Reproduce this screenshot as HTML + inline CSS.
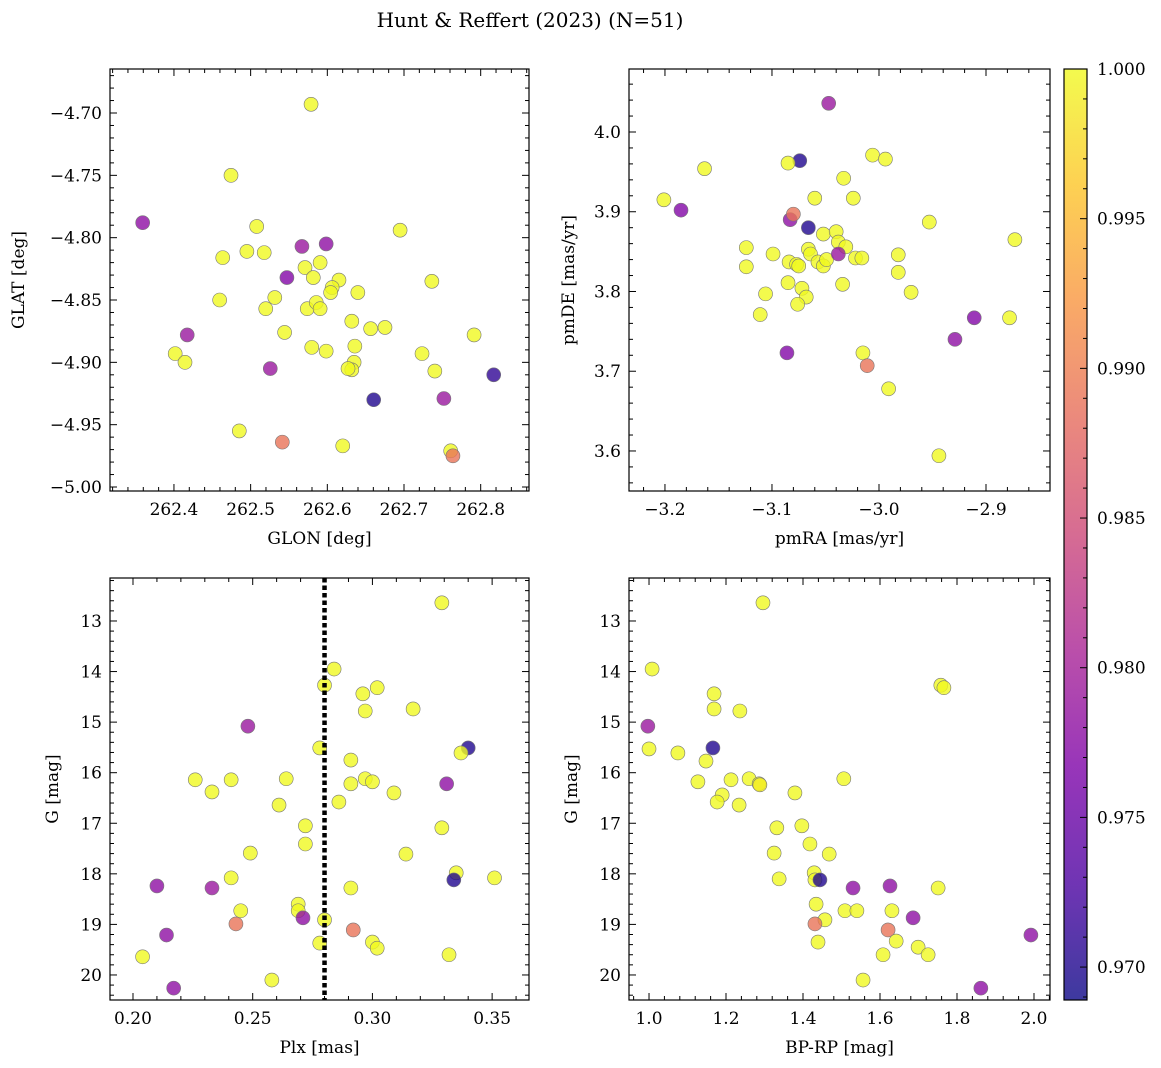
<!DOCTYPE html>
<html><head><meta charset="utf-8">
<style>
html,body{margin:0;padding:0;background:#fff;}
svg{display:block;font-family:"DejaVu Serif","Liberation Serif",serif;}
</style></head>
<body>
<svg id="fig" width="1161" height="1068" viewBox="0 0 1161 1068" xmlns="http://www.w3.org/2000/svg">
<defs>
<linearGradient id="plasma" x1="0" y1="1" x2="0" y2="0">
<stop offset="0" stop-color="#0d0887"/><stop offset="0.125" stop-color="#4c02a1"/>
<stop offset="0.25" stop-color="#7e03a8"/><stop offset="0.375" stop-color="#a92395"/>
<stop offset="0.5" stop-color="#cc4778"/><stop offset="0.625" stop-color="#e66c5c"/>
<stop offset="0.75" stop-color="#f89540"/><stop offset="0.875" stop-color="#fdc527"/>
<stop offset="1" stop-color="#f0f921"/>
</linearGradient>
</defs>
<text x="530" y="27" font-size="20" text-anchor="middle">Hunt &amp; Reffert (2023) (N=51)</text>
</svg>
<script>
// Panel 1: GLON vs GLAT
const tlX=[262.5788,262.3592,262.4744,262.5079,262.4951,262.5177,262.5669,262.5985,262.5473,262.5709,262.5906,262.6152,262.6063,262.5817,262.4636,262.4596,262.5315,262.5197,262.5738,262.5856,262.5906,262.6043,262.6398,262.6949,262.7363,262.4016,262.4144,262.4173,262.5443,262.5797,262.5985,262.6319,262.6359,262.6349,262.6319,262.6270,262.6565,262.6752,262.7235,262.7914,262.7402,262.5256,262.6605,262.7520,262.8170,262.4852,262.5413,262.6201,262.7609,262.7638];
const tlY=[-4.693,-4.788,-4.750,-4.791,-4.811,-4.812,-4.807,-4.805,-4.832,-4.824,-4.820,-4.834,-4.840,-4.832,-4.816,-4.850,-4.848,-4.857,-4.857,-4.852,-4.857,-4.844,-4.844,-4.794,-4.835,-4.893,-4.900,-4.878,-4.876,-4.888,-4.891,-4.867,-4.887,-4.900,-4.906,-4.905,-4.873,-4.872,-4.893,-4.878,-4.907,-4.905,-4.930,-4.929,-4.910,-4.955,-4.964,-4.967,-4.971,-4.975];
const tlP=[1,0.978,1,1,1,1,0.979,0.978,0.977,1,1,1,1,1,1,1,1,1,1,1,1,1,1,1,1,1,1,0.979,1,1,1,1,1,1,1,1,1,1,1,1,1,0.979,0.970,0.979,0.971,1,0.989,1,1,0.989];
// Panel 2: pmRA vs pmDE
const trX=[-3.047,-3.201,-3.185,-3.163,-3.074,-3.085,-3.060,-3.033,-3.006,-2.994,-3.024,-3.083,-3.080,-3.066,-3.124,-3.124,-3.099,-3.084,-3.077,-3.066,-3.064,-3.052,-3.040,-3.038,-3.031,-3.057,-3.052,-3.049,-3.075,-3.038,-3.022,-3.016,-2.982,-2.982,-2.953,-2.873,-3.085,-3.072,-3.068,-3.076,-3.106,-3.034,-2.970,-3.111,-2.911,-2.878,-2.929,-3.086,-3.015,-3.011,-2.991,-2.944];
const trY=[4.036,3.915,3.902,3.954,3.964,3.961,3.917,3.942,3.971,3.966,3.917,3.890,3.897,3.880,3.855,3.831,3.847,3.837,3.834,3.853,3.847,3.872,3.875,3.862,3.856,3.837,3.832,3.840,3.832,3.847,3.842,3.842,3.846,3.824,3.887,3.865,3.811,3.804,3.793,3.784,3.797,3.809,3.799,3.771,3.767,3.767,3.740,3.723,3.723,3.707,3.678,3.594];
const trP=[0.979,1,0.977,1,0.970,1,1,1,1,1,1,0.978,0.989,0.970,1,1,1,1,1,1,1,1,1,1,1,1,1,1,1,0.979,1,1,1,1,1,1,1,1,1,1,1,1,1,1,0.977,1,0.978,0.977,1,0.989,1,1];
// Panel 3: Plx vs G
const blX=[0.329,0.284,0.280,0.302,0.296,0.297,0.317,0.248,0.340,0.337,0.278,0.291,0.226,0.233,0.241,0.264,0.297,0.300,0.291,0.309,0.331,0.261,0.286,0.272,0.329,0.272,0.249,0.314,0.210,0.233,0.241,0.291,0.335,0.351,0.334,0.269,0.269,0.245,0.271,0.280,0.243,0.292,0.214,0.278,0.300,0.302,0.332,0.204,0.258,0.217];
const blY=[12.64,13.95,14.27,14.32,14.44,14.78,14.74,15.08,15.51,15.61,15.51,15.75,16.14,16.38,16.14,16.12,16.12,16.18,16.22,16.40,16.22,16.64,16.58,17.05,17.09,17.41,17.59,17.61,18.24,18.28,18.08,18.28,17.98,18.08,18.12,18.60,18.73,18.73,18.87,18.91,18.99,19.11,19.21,19.37,19.35,19.47,19.60,19.64,20.10,20.26];
const blP=[1,1,1,1,1,1,1,0.979,0.970,1,1,1,1,1,1,1,1,1,1,1,0.978,1,1,1,1,1,1,1,0.978,0.979,1,1,1,1,0.970,1,1,1,0.978,1,0.989,0.989,0.978,1,1,1,1,1,1,0.978];
// Panel 4: BP-RP vs G
const brX=[1.296,1.008,1.758,1.766,1.169,1.169,1.236,0.997,1.166,1.000,1.075,1.148,1.127,1.213,1.260,1.506,1.286,1.288,1.379,1.190,1.177,1.234,1.397,1.332,1.418,1.325,1.468,1.429,1.431,1.444,1.338,1.626,1.530,1.751,1.434,1.631,1.509,1.540,1.686,1.457,1.431,1.621,1.642,1.992,1.439,1.699,1.608,1.725,1.556,1.862];
const brY=[12.64,13.95,14.27,14.32,14.44,14.74,14.78,15.08,15.51,15.53,15.61,15.77,16.18,16.14,16.12,16.12,16.22,16.24,16.40,16.44,16.58,16.64,17.05,17.09,17.41,17.59,17.61,17.98,18.12,18.12,18.10,18.24,18.28,18.28,18.60,18.73,18.73,18.73,18.87,18.91,18.99,19.11,19.33,19.21,19.35,19.45,19.60,19.60,20.10,20.26];
const brP=[1,1,1,1,1,1,1,0.979,0.970,1,1,1,1,1,1,1,1,0.999,1,1,1,1,1,1,1,1,1,1,1,0.970,1,0.978,0.978,1,1,1,1,1,0.978,1,0.989,0.989,1,0.978,1,1,1,1,1,0.978];
const cbTicks=[0.970,0.975,0.980,0.985,0.990,0.995,1.000];
const VMIN=0.9689, VMAX=1.0;

const NS='http://www.w3.org/2000/svg';
const svg=document.getElementById('fig');
function mk(tag,attrs,parent){const e=document.createElementNS(NS,tag);for(const k in attrs)e.setAttribute(k,attrs[k]);(parent||svg).appendChild(e);return e;}
const stops=[[0,[13,8,135]],[0.125,[76,2,161]],[0.25,[126,3,168]],[0.375,[169,35,149]],[0.5,[204,71,120]],[0.625,[230,108,92]],[0.75,[248,149,64]],[0.875,[253,197,39]],[1,[240,249,33]]];
function plasma(t){t=Math.max(0,Math.min(1,t));for(let i=1;i<stops.length;i++){if(t<=stops[i][0]){const a=stops[i-1],b=stops[i];const f=(t-a[0])/(b[0]-a[0]);const c=a[1].map((v,j)=>Math.round(v+(b[1][j]-v)*f));return 'rgb('+c.join(',')+')';}}return 'rgb(240,249,33)';}
function fmt(v,d){let s=v.toFixed(d);return s.replace('-','\u2212');}

function panel(name,box,xr,yr,xMaj,xMin,yMaj,yMin,xd,yd,xlab,ylab,yoff,X,Y,P){
  const [L,T,R,B]=box;
  const sx=v=>L+(v-xr[0])/(xr[1]-xr[0])*(R-L);
  const sy=v=>T+(yr[1]-v)/(yr[1]-yr[0])*(B-T);
  const g=mk('g',{});
  
  
  const lo=Math.min(xr[0],xr[1]),hi=Math.max(xr[0],xr[1]);
  for(let k=Math.ceil(lo/xMin-1e-6);k*xMin<=hi+1e-9;k++){const v=k*xMin;const x=sx(v);const maj=Math.abs(v/xMaj-Math.round(v/xMaj))<1e-6;const len=maj?7:4;
    mk('line',{x1:x,y1:B,x2:x,y2:B-len,stroke:'#000','stroke-width':1},g);mk('line',{x1:x,y1:T,x2:x,y2:T+len,stroke:'#000','stroke-width':1},g);
    if(maj){const t=mk('text',{x:x,y:B+24,'font-size':17,'text-anchor':'middle'},g);t.textContent=fmt(v,xd);}}
  const ylo=Math.min(yr[0],yr[1]),yhi=Math.max(yr[0],yr[1]);
  for(let k=Math.ceil(ylo/yMin-1e-6);k*yMin<=yhi+1e-9;k++){const v=k*yMin;const y=sy(v);const maj=Math.abs(v/yMaj-Math.round(v/yMaj))<1e-6;const len=maj?7:4;
    mk('line',{x1:L,y1:y,x2:L+len,y2:y,stroke:'#000','stroke-width':1},g);mk('line',{x1:R,y1:y,x2:R-len,y2:y,stroke:'#000','stroke-width':1},g);
    if(maj){const t=mk('text',{x:L-8,y:y+6,'font-size':17,'text-anchor':'end'},g);t.textContent=fmt(v,yd);}}
  const xl=mk('text',{x:(L+R)/2,y:B+53,'font-size':17,'text-anchor':'middle'},g);xl.textContent=xlab;
  
  
  const yx=L-yoff;
  const yl=mk('text',{x:yx,y:(T+B)/2,'font-size':17,'text-anchor':'middle',transform:'rotate(-90 '+yx+' '+(T+B)/2+')'},g);yl.textContent=ylab;
  
  
  const clip='c'+name;const cp=mk('clipPath',{id:clip},g);mk('rect',{x:L,y:T,width:R-L,height:B-T},cp);
  const pg=mk('g',{'clip-path':'url(#'+clip+')'},g);
  for(let i=0;i<X.length;i++){const c=mk('circle',{cx:sx(X[i]),cy:sy(Y[i]),r:7,fill:plasma((P[i]-VMIN)/(VMAX-VMIN)),'fill-opacity':0.8,stroke:'#777','stroke-width':0.6},pg);
    
    }
  mk('rect',{x:L,y:T,width:R-L,height:B-T,fill:'none',stroke:'#000','stroke-width':1.2},g);
  return {sx,sy,g};
}
panel('glon-glat-panel',[110,69,529,491],[262.3166,262.863],[-5.0032,-4.6647],0.1,0.02,0.05,0.01,1,2,'GLON [deg]','GLAT [deg]',86,tlX,tlY,tlP);
panel('pm-panel',[629,69,1050,491],[-3.2336,-2.8402],[3.5498,4.079],0.1,0.02,0.1,0.02,1,1,'pmRA [mas/yr]','pmDE [mas/yr]',55,trX,trY,trP);
const p3=panel('plx-g-panel',[110,578,529,1000],[0.1904,0.3654],[20.495,12.150],0.05,0.01,1,0.2,2,0,'Plx [mas]','G [mag]',52,blX,blY,blP);
panel('cmd-panel',[629,578,1050,1000],[0.948,2.0416],[20.495,12.150],0.2,0.04,1,0.2,1,0,'BP-RP [mag]','G [mag]',52,brX,brY,brP);
const plxRef=[0.28];
const vl=mk('line',{x1:p3.sx(plxRef[0]),y1:578,x2:p3.sx(plxRef[0]),y2:1000,stroke:'#000','stroke-width':4.5,'stroke-dasharray':'4.5 3'});


// colorbar
const cbT=69,cbB=1000,cbL=1064,cbR=1087;
const cy=v=>cbT+(VMAX-v)/(VMAX-VMIN)*(cbB-cbT);
const cbg=mk('g',{});


mk('rect',{x:cbL,y:cbT,width:cbR-cbL,height:cbB-cbT,fill:'url(#plasma)','fill-opacity':0.8},cbg);
for(let k=969;k<=1000;k++){const v=k/1000;const y=cy(v);const maj=k%5===0;mk('line',{x1:cbR,y1:y,x2:cbR-(maj?7:4),y2:y,stroke:'#000','stroke-width':1},cbg);}
cbTicks.forEach(v=>{const t=mk('text',{x:cbR+10,y:cy(v)+6,'font-size':17},cbg);t.textContent=v.toFixed(3);
  
  });
mk('rect',{x:cbL,y:cbT,width:cbR-cbL,height:cbB-cbT,fill:'none',stroke:'#000','stroke-width':1.2},cbg);
</script>
</body></html>
